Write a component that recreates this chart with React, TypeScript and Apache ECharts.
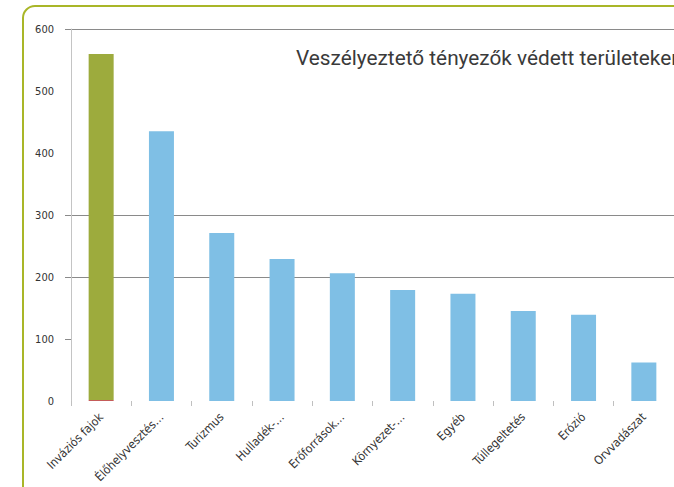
import React, { useEffect, useRef } from "react";
import * as echarts from "echarts";

const categories = [
  "Inváziós fajok",
  "Élőhelyvesztés…",
  "Turizmus",
  "Hulladék-…",
  "Erőforrások…",
  "Környezet-…",
  "Egyéb",
  "Túllegeltetés",
  "Erózió",
  "Orvvadászat",
];
const values = [558, 435, 271, 229, 206, 179, 173, 145, 139, 62];
const baseValues = [1.5, 0, 0, 0, 0, 0, 0, 0, 0, 0];
const yTicks = [0, 100, 200, 300, 400, 500, 600];
const visibleGridValues = [100, 200, 300, 600];
const titleText = "Veszélyeztető tényezők védett területeken";

const GREEN = "#9dab3d";
const BLUE = "#7fbfe5";
const FONT = "'Liberation Sans Narrow', 'DejaVu Sans Condensed', Arial, sans-serif";

export default function App() {
  const ref = useRef<HTMLDivElement>(null);
  useEffect(() => {
    if (!ref.current) return;
    const chart = echarts.init(ref.current, undefined, { renderer: "svg" });
    const splitColors = yTicks
      .slice(1)
      .map((v) => (visibleGridValues.includes(v) ? "#8a8a8a" : "rgba(0,0,0,0)"));
    chart.setOption({
      animation: false,
      backgroundColor: "#ffffff",
      grid: { left: 71, top: 29, width: 615, height: 372, containLabel: false },
      graphic: [
        {
          type: "rect",
          shape: { x: 23, y: 6, width: 720, height: 520, r: 12 },
          style: { fill: "none", stroke: "#a9b628", lineWidth: 2 },
          silent: true,
          z: 10,
        },
        {
          type: "text",
          left: 296,
          top: 47,
          style: {
            text: titleText,
            fill: "#3a3a3a",
            font: "20.8px Roboto, 'Noto Sans', sans-serif",
          },
          z: 10,
        },
      ],
      xAxis: {
        type: "category",
        data: categories,
        axisLine: { show: false },
        axisTick: {
          show: true,
          alignWithLabel: false,
          length: 5,
          lineStyle: { color: "#c0c0c0" },
        },
        axisLabel: {
          rotate: 45,
          interval: 0,
          margin: 14,
          color: "#333333",
          fontSize: 12,
          fontFamily: FONT,
        },
      },
      yAxis: {
        type: "value",
        min: 0,
        max: 600,
        interval: 100,
        axisLine: { show: true, lineStyle: { color: "#c4c4c4", width: 1 } },
        axisTick: {
          show: true,
          length: 6,
          customValues: visibleGridValues,
          lineStyle: { color: "#8a8a8a" },
        },
        axisLabel: {
          color: "#333333",
          fontSize: 11,
          fontFamily: FONT,
          margin: 17,
        },
        splitLine: {
          show: true,
          showMinLine: false,
          lineStyle: { color: splitColors, width: 1 },
        },
      },
      series: [
        {
          type: "bar",
          stack: "s",
          barWidth: 25,
          data: baseValues,
          itemStyle: { color: "#c0504d" },
        },
        {
          type: "bar",
          stack: "s",
          barWidth: 25,
          data: values.map((v, i) => ({
            value: v,
            itemStyle: { color: i === 0 ? GREEN : BLUE },
          })),
        },
      ],
    });
    return () => chart.dispose();
  }, []);
  return (
    <div
      ref={ref}
      style={{ position: "fixed", left: 0, top: 0, width: 674, height: 487 }}
    />
  );
}
